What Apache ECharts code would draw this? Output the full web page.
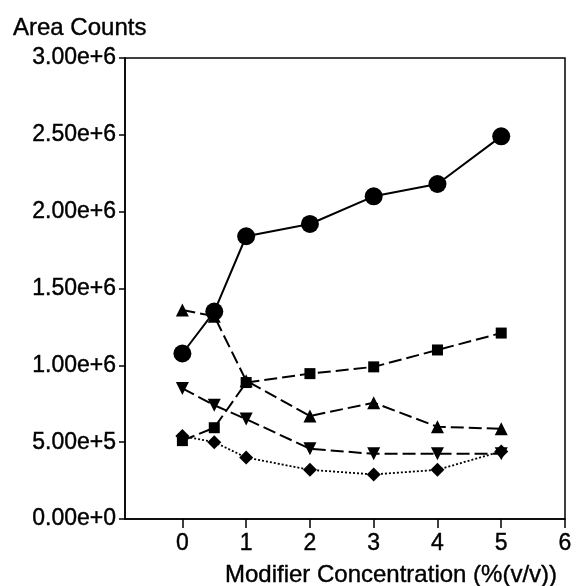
<!DOCTYPE html>
<html>
<head>
<meta charset="utf-8">
<script src="https://cdn.jsdelivr.net/npm/echarts@6/dist/echarts.min.js"></script>
<style>
html,body{margin:0;padding:0;background:#fff;}
#chart{width:576px;height:586px;}
</style>
</head>
<body>
<div id="chart"></div>
<script>
var xValues = [0, 0.5, 1, 2, 3, 4, 5];
var xTickValues = [0, 1, 2, 3, 4, 5, 6];
var circleSeries = [1.077e6, 1.35e6, 1.84e6, 1.92e6, 2.10e6, 2.18e6, 2.49e6];
var triUpSeries = [1.36e6, 1.32e6, 0.90e6, 0.67e6, 0.757e6, 0.60e6, 0.587e6];
var squareSeries = [0.51e6, 0.594e6, 0.888e6, 0.946e6, 0.99e6, 1.10e6, 1.21e6];
var triDownSeries = [0.85e6, 0.74e6, 0.65e6, 0.457e6, 0.424e6, 0.424e6, 0.424e6];
var diamondSeries = [0.54e6, 0.50e6, 0.40e6, 0.32e6, 0.29e6, 0.32e6, 0.44e6];
var yTitle = 'Area Counts';
var xTitle = 'Modifier Concentration (%(v/v))';

function pairs(ys) { return xValues.map(function (x, i) { return [x, ys[i]]; }); }

var FONT = '"Liberation Sans", Arial, sans-serif';
var chart = echarts.init(document.getElementById('chart'), null, {renderer: 'canvas'});

function mk(data, symbol, size, dash, width, rotate, z) {
  return {
    type: 'line', data: pairs(data), symbol: symbol, symbolSize: size,
    symbolRotate: rotate || 0, z: z,
    itemStyle: {color: '#000', borderWidth: 0},
    lineStyle: {color: '#000', width: width, type: dash},
    animation: false
  };
}

chart.setOption({
  backgroundColor: '#fff',
  animation: false,
  title: {
    text: yTitle, left: 8, top: 11,
    textStyle: {fontFamily: FONT, fontSize: 24, fontWeight: 'normal', color: '#000', lineHeight: 24,
      textBorderColor: '#000', textBorderWidth: 0.4}
  },
  grid: {left: 125, right: 11, top: 58, bottom: 67, show: true, borderColor: '#000', borderWidth: 1.5, backgroundColor: 'transparent'},
  xAxis: {
    type: 'value', min: -0.9, max: 6,
    axisLine: {show: true, onZero: false, lineStyle: {color: '#000', width: 1.5}},
    axisTick: {show: true, inside: false, length: 9, customValues: xTickValues, lineStyle: {color: '#000', width: 1.5}},
    axisLabel: {customValues: xTickValues, margin: 13, fontFamily: FONT, fontSize: 23, color: '#000',
      textBorderColor: '#000', textBorderWidth: 0.4},
    splitLine: {show: false}
  },
  yAxis: {
    type: 'value', min: 0, max: 3e6, interval: 5e5,
    axisLine: {show: true, onZero: false, lineStyle: {color: '#000', width: 1.5}},
    axisTick: {show: true, inside: false, length: 6, lineStyle: {color: '#000', width: 1.5}},
    axisLabel: {margin: 9, fontFamily: FONT, fontSize: 23, color: '#000',
      textBorderColor: '#000', textBorderWidth: 0.4,
      formatter: function (v) { return v.toExponential(2); }},
    splitLine: {show: false}
  },
  graphic: [{
    type: 'text', x: 391, y: 575,
    style: {text: xTitle, font: '24px ' + FONT, fill: '#000', stroke: '#000', lineWidth: 0.4,
      textAlign: 'center', textVerticalAlign: 'middle'}
  }],
  series: [
    mk(diamondSeries, 'diamond', 14, [2, 2], 1.8, 0, 2),
    mk(triDownSeries, 'triangle', 13, [13, 5], 2, 180, 3),
    mk(squareSeries, 'rect', 11, [13, 5], 2, 0, 4),
    mk(triUpSeries, 'triangle', 13, [13, 5], 2, 0, 5),
    mk(circleSeries, 'circle', 18, 'solid', 2, 0, 6)
  ]
});
</script>
</body>
</html>
